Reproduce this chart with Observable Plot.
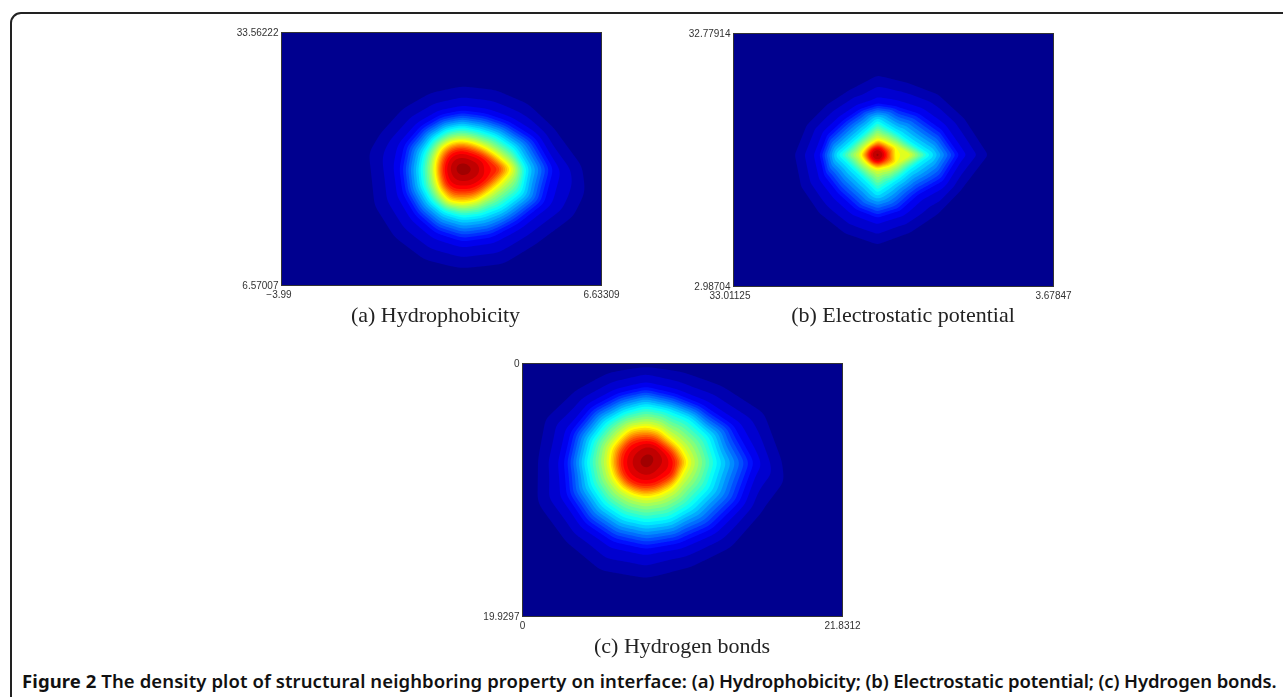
<!DOCTYPE html>
<html><head><meta charset="utf-8">
<script src="https://cdn.jsdelivr.net/npm/d3@7"></script>
<script src="https://cdn.jsdelivr.net/npm/@observablehq/plot@0.6"></script>
<style>
html,body{margin:0;padding:0;background:#fff;overflow:hidden}
#page{position:relative;width:1283px;height:697px;overflow:hidden}
#border{position:absolute;left:9.5px;top:12px;width:1400px;height:800px;border:2px solid #222;border-radius:11px;box-sizing:border-box}
.panel{position:absolute;filter:blur(0.4px)}
.panel svg{display:block;overflow:visible}
.sub{position:absolute;font-family:"Liberation Serif",serif;font-size:22px;color:#222;transform:translateX(-50%);white-space:nowrap;line-height:24px;filter:blur(0.3px)}
#cap{position:absolute;left:22px;top:670px;font-family:"Noto Sans",sans-serif;font-size:18.5px;font-weight:600;color:#111;white-space:nowrap;line-height:22px}
#cap b{font-weight:700;letter-spacing:.1px}
#cap .a{letter-spacing:.09px}
#cap .b{letter-spacing:-.13px}
</style></head><body><div id="page"><div id="border"></div><div id="cap"><b>Figure 2</b> <span class="a">The density plot of structural neighboring property on interface:</span> <span class="b">(a) Hydrophobicity; (b) Electrostatic potential; (c) Hydrogen bonds.</span></div></div>
<script>
// Contour rings: at each level, the distance from the peak along 16 rays
// (clockwise from east), in units where the x axis spans 960 and the y axis 759.
const levels = [0.03, 0.11, 0.375, 0.625, 0.875, 0.96];

const hydroXDomain = [-3.99, 6.63309];
const hydroYDomain = [6.57007, 33.56222];
const hydroPeak = [543, 409, 1];
const hydroRings = [
  [356,358,311,306,297,290,283,280,270,262,247,240,242,250,269,295],
  [275,268,235,225,220,210,200,195,190,190,180,175,175,180,200,240],
  [190,190,165,150,145,140,135,130,125,125,125,125,125,125,140,165],
  [152,120,106,105,105,108,95,85,83,85,90,88,85,85,92,110],
  [110,85,75,70,65,70,70,62,60,60,62,62,60,58,65,80],
  [45,38,32,30,28,28,28,28,30,30,28,26,26,26,28,36]
];
const hydroExtra = [[910,474,0.03],[268,364,0.03]];

const elecXDomain = [33.01125, 3.67847];
const elecYDomain = [2.98704, 32.77914];
const elecPeak = [432, 364, 0.98];
const elecRings = [
  [330,271,252,252,268,254,246,247,247,229,212,211,237,233,255,281],
  [250,215,175,185,193,180,170,175,177,165,150,150,157,160,180,210],
  [158,108,96,96,113,87,81,89,117,86,77,81,102,88,90,104],
  [95,62,50,42,43,40,40,44,52,44,40,40,47,45,48,60],
  [26,25,24,24,24,24,24,25,26,25,24,24,24,24,24,25],
  [13,12,12,12,12,12,12,12,13,12,12,12,12,12,12,12]
];
const elecExtra = [];

const bondsXDomain = [0, 21.8312];
const bondsYDomain = [19.9297, 0];
const bondsPeak = [370, 297, 0.99];
const bondsRings = [
  [403,372,353,335,343,346,332,338,323,325,297,287,290,288,318,378],
  [330,310,285,265,262,260,260,260,248,245,235,225,228,225,245,290],
  [215,205,190,185,180,178,178,178,178,175,170,165,170,170,185,205],
  [128,112,110,105,105,103,106,108,110,113,108,113,110,108,102,113],
  [90,90,75,72,70,72,75,75,75,75,75,70,68,70,70,80],
  [35,28,28,28,28,25,25,28,30,30,30,32,40,45,45,42]
];
const bondsExtra = [[780,352,0.03],[45,407,0.03],[50,282,0.03],[70,182,0.03]];

const jetStops = ["#00008f","#0000ff","#00ffff","#ffff00","#ff0000","#800000"];
const jetAt = [0, 0.11, 0.365, 0.625, 0.875, 1];
const jet = d3.scaleLinear().domain(jetAt).range(jetStops).interpolate(d3.interpolateRgb);
const bandEdges = d3.range(1, 32).map(i => i / 32);

function samples(xd, yd, peak, rings, extra) {
  const px = u => xd[0] + (u / 960) * (xd[1] - xd[0]);
  const py = v => yd[1] + (v / 759) * (yd[0] - yd[1]);
  const out = [[0,0],[960,0],[0,759],[960,759]].map(([u,v]) => ({x: px(u), y: py(v), v: 0}));
  out.push({x: px(peak[0]), y: py(peak[1]), v: peak[2]});
  rings.forEach((ring, k) => ring.forEach((r, i) => {
    const a = i * Math.PI / 8;
    out.push({x: px(peak[0] + r * Math.cos(a)), y: py(peak[1] + r * Math.sin(a)), v: levels[k]});
  }));
  extra.forEach(([u, v, w]) => out.push({x: px(u), y: py(v), v: w}));
  return out;
}

function panel(xd, yd, peak, rings, extra, blur, leftDx, left, top) {
  const fmt = d => String(d).replace("-", "\u2212");
  const svg = Plot.plot({
    width: 400, height: 280,
    marginLeft: 60, marginRight: 20, marginTop: 6, marginBottom: 21,
    style: {background: "transparent", fontFamily: "'Liberation Sans',Arial,sans-serif", fontSize: "10px", color: "#333"},
    x: {domain: xd, axis: null},
    y: {domain: yd, axis: null},
    color: {type: "linear", domain: [0, 1], interpolate: t => jet(t)},
    marks: [
      Plot.frame({fill: "#00008f"}),
      Plot.contour(samples(xd, yd, peak, rings, extra), {x: "x", y: "y", fill: "v", interpolate: "barycentric", thresholds: bandEdges, pixelSize: 1, blur, stroke: "none", clip: true}),
      Plot.frame({stroke: "#333", strokeWidth: 1}),
      Plot.axisX([xd[0]], {tickSize: 0, tickPadding: 5, dx: leftDx, tickFormat: fmt, fill: "#333", fontSize: 10, label: null}),
      Plot.axisX([xd[1]], {tickSize: 0, tickPadding: 5, tickFormat: fmt, fill: "#333", fontSize: 10, label: null}),
      Plot.axisY(yd, {tickSize: 0, tickPadding: 3, tickFormat: fmt, fill: "#333", fontSize: 10, label: null})
    ]
  });
  const d = document.createElement("div");
  d.className = "panel";
  d.style.left = left + "px";
  d.style.top = top + "px";
  d.appendChild(svg);
  document.getElementById("page").appendChild(d);
}
function sub(text, cx, top) {
  const s = document.createElement("div");
  s.className = "sub"; s.textContent = text;
  s.style.left = cx + "px"; s.style.top = top + "px";
  document.getElementById("page").appendChild(s);
}
panel(hydroXDomain, hydroYDomain, hydroPeak, hydroRings, hydroExtra, 3, -2.5, 220.7, 26);
panel(elecXDomain, elecYDomain, elecPeak, elecRings, elecExtra, 1, -3.5, 673.3, 26.5);
panel(bondsXDomain, bondsYDomain, bondsPeak, bondsRings, bondsExtra, 3, 0, 461.5, 356.7);
sub("(a) Hydrophobicity", 435.5, 303);
sub("(b) Electrostatic potential", 903, 303);
sub("(c) Hydrogen bonds", 682, 634);
</script></body></html>
